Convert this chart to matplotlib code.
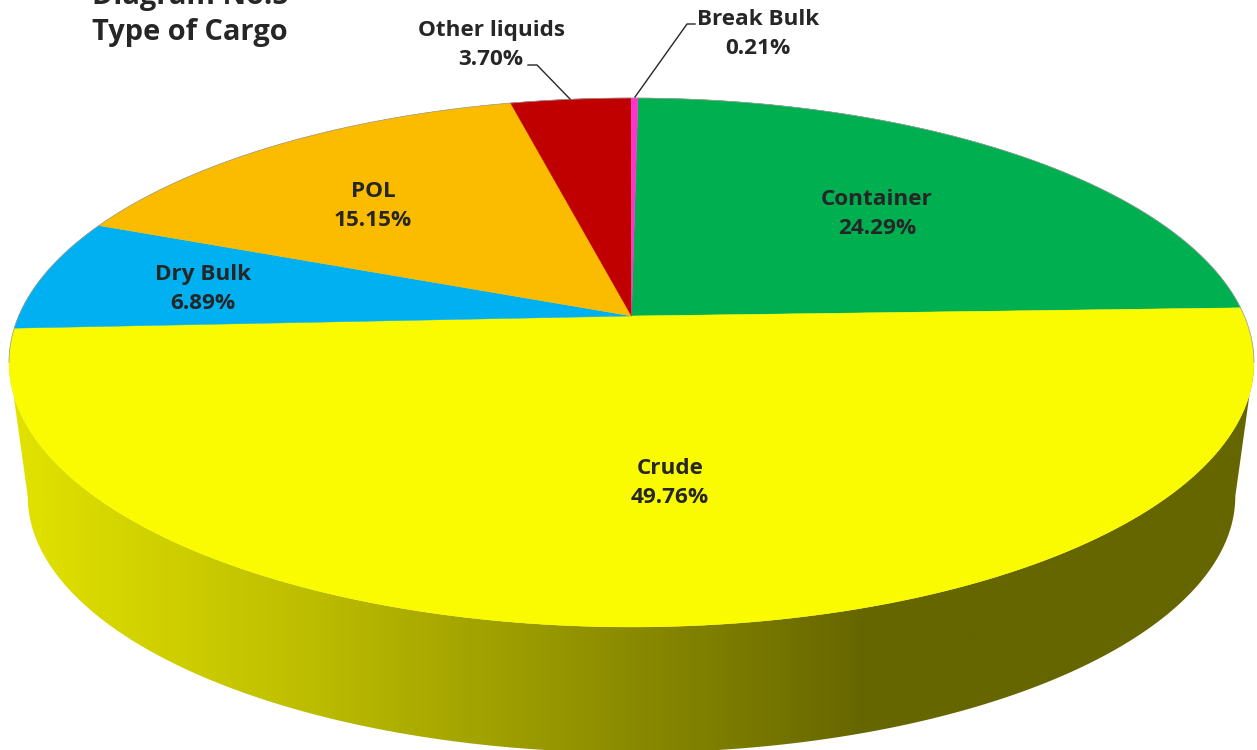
"""3-D style pie: type of cargo. Drawn in image pixel coordinates."""
import numpy as np
import matplotlib
matplotlib.use("Agg")
import matplotlib.pyplot as plt
from matplotlib.colors import LinearSegmentedColormap
from matplotlib.patches import Polygon

CARGO = ["Container", "Crude", "Dry Bulk", "POL", "Other liquids", "Break Bulk"]
SHARE = [24.29, 49.76, 6.89, 15.15, 3.70, 0.21]
COLORS = ["#00B050", "#FAFA00", "#00B0F0", "#FBBC00", "#C00000", "#FF33CC"]
LABEL_XY = [(877, 214), (670, 483), (203, 289), (373, 206), (491, 45), (758, 34)]

W, H = 1257, 750
CX, CY = 631.5, 316.0   # pie centre on top face
A, B, K = 612.8, 256.3, 0.1758  # perspective circle
SIDE_CY, SIDE_SCALE = 451.0, 0.97
START = 0.0125  # first slice starts just right of the back
FONT = "Open Sans"
INK = "#262626"


def rim(theta, cy=CY, scale=1.0):
    """theta clockwise from the back of the pie -> screen x, y."""
    c, s = np.sin(theta), np.cos(theta)
    d = 1 + K * s
    return CX + scale * A * c / d, cy - scale * B * s / d


fig = plt.figure(figsize=(W / 100, H / 100), dpi=100)
ax = fig.add_axes([0, 0, 1, 1])
ax.set_xlim(0, W)
ax.set_ylim(H, 0)
ax.axis("off")

# side wall, only the front of the rim shows
half = np.arccos(-K)
th = np.linspace(half, 2 * np.pi - half, 300)
tx, ty = rim(th)
bx, by = rim(th, SIDE_CY, SIDE_SCALE)
wall = Polygon(np.r_[np.c_[tx, ty], np.c_[bx, by][::-1]], closed=True, fc="none", ec="none")
ax.add_patch(wall)
shade = LinearSegmentedColormap.from_list(
    "wall", [(0.0, "#E4E400"), (0.24, "#BEBE00"), (0.32, "#AEAE00"), (0.69, "#666600"), (1.0, "#666600")])
# gradient runs left to right in the image, dark end on the right of the front
img = ax.imshow(np.linspace(0, 1, 512)[None, :], cmap=shade, aspect="auto",
                extent=(0, W, H, 0), zorder=1)
img.set_clip_path(wall)
ax.set_xlim(0, W)
ax.set_ylim(H, 0)

# top face
edges = np.r_[0, np.cumsum(SHARE)] / sum(SHARE) * 2 * np.pi + START
for i, col in enumerate(COLORS):
    t = np.linspace(edges[i], edges[i + 1], 200)
    x, y = rim(t)
    ax.add_patch(Polygon(np.c_[np.r_[CX, x], np.r_[CY, y]], closed=True,
                         fc=col, ec=col, lw=0.3, zorder=2))
t = np.linspace(-half, half, 360)
ax.plot(*rim(t), color="0.6", lw=0.5, zorder=2.5)

# leaders
ax.plot([528, 537, 570], [65, 65, 99], color=INK, lw=1, zorder=3)
ax.plot([695, 687, 635], [24, 24, 97], color=INK, lw=1, zorder=3)

for name, val, (x, y) in zip(CARGO, SHARE, LABEL_XY):
    ax.text(x, y, f"{name}\n{val:.2f}%", ha="center", va="center", family=FONT,
            weight="bold", fontsize=16.2, color=INK, linespacing=1.54, zorder=4)

ax.text(92, 4, "Diagram No.5", ha="left", va="baseline", family=FONT, weight="bold",
        fontsize=20.9, color=INK, clip_on=False)
ax.text(92, 40, "Type of Cargo", ha="left", va="baseline", family=FONT, weight="bold",
        fontsize=20.9, color=INK)

fig.savefig("out.png", dpi=100, facecolor="white")
